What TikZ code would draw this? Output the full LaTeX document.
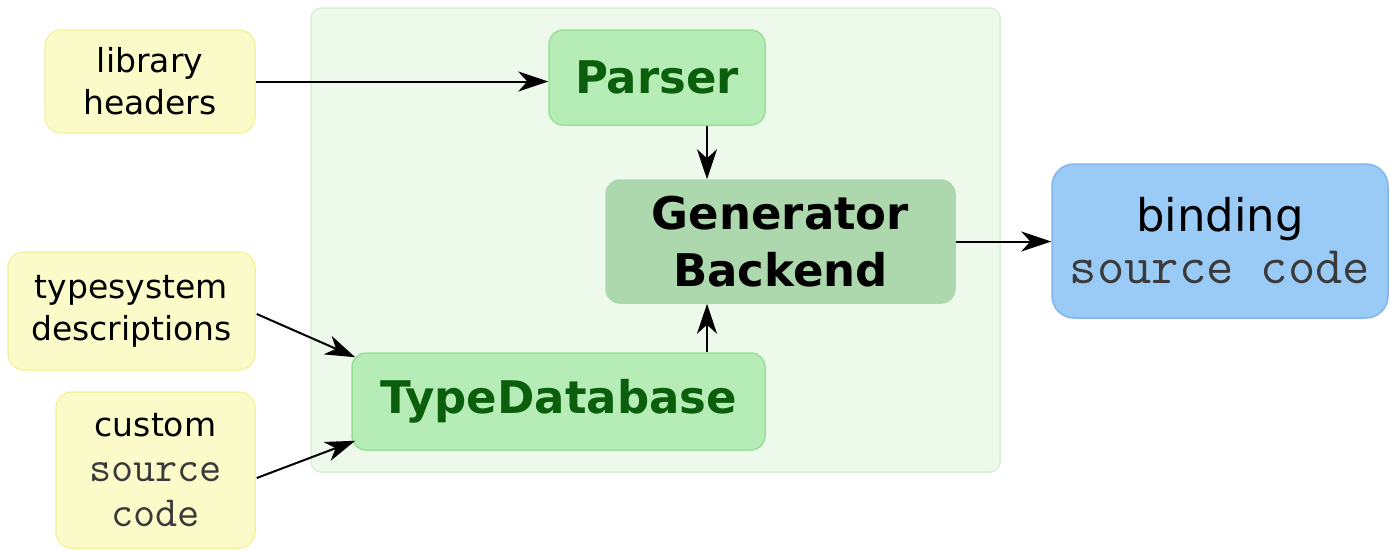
\documentclass[tikz,border=0pt]{standalone}
\usepackage{fontspec}
\setmainfont{DejaVu Sans}
\usetikzlibrary{arrows.meta,calc}
\definecolor{contfill}{HTML}{ECF9EB}
\definecolor{contdraw}{HTML}{D6F1D4}
\definecolor{yelfill}{HTML}{FBFBC9}
\definecolor{yeldraw}{HTML}{F3F3A6}
\definecolor{grnfill}{HTML}{B6ECB5}
\definecolor{grndraw}{HTML}{9ADF98}
\definecolor{grntext}{HTML}{0B5E0B}
\definecolor{genfill}{HTML}{ADD7AC}
\definecolor{blufill}{HTML}{9ACBF6}
\definecolor{bludraw}{HTML}{80B6EC}
\definecolor{monotext}{HTML}{3A3A3A}
\tikzset{
  inbox/.style={draw=yeldraw, fill=yelfill, line width=1.5pt, rounded corners=16pt,
    inner sep=0pt, align=center, font=\fontsize{33}{42}\selectfont},
  stage/.style={draw=grndraw, fill=grnfill, line width=1.5pt, rounded corners=14pt,
    inner sep=0pt, align=center, text=grntext, font=\fontsize{45}{57}\selectfont\bfseries},
  flow/.style={line width=2pt, -{Stealth[length=30pt,width=20pt,inset=9pt]}}
}
\newcommand{\mytt}[1]{{\ttfamily\color{monotext}#1}}
\begin{document}
\begin{tikzpicture}[x=1pt,y=-1pt]
\useasboundingbox (0,0) rectangle (1390,550);
\node[draw=contdraw, fill=contfill, line width=1.5pt, rounded corners=10pt,
  minimum width=689pt, minimum height=464pt, inner sep=0pt] (cont) at (655.5,240) {};
\node[inbox, minimum width=210pt, minimum height=103pt] (lib) at (150,81.5) {library\\headers};
\node[inbox, minimum width=247pt, minimum height=118pt] (tsys) at (131.5,311) {typesystem\\descriptions};
\node[inbox, minimum width=199pt, minimum height=156pt, font=\fontsize{33}{45}\selectfont] (cust) at (155.5,470)
  {custom\\{\fontsize{43}{45}\selectfont\mytt{source}}\\{\fontsize{43}{45}\selectfont\mytt{code}}};
\node[stage, minimum width=216pt, minimum height=95pt] (parser) at (657,77.5) {Parser};
\node[stage, draw=genfill, fill=genfill, text=black, minimum width=349pt, minimum height=123pt] (gen) at (780.5,241.5) {Generator\\Backend};
\node[stage, minimum width=413pt, minimum height=97pt] (tdb) at (558.5,401.5) {TypeDatabase};
\node[draw=bludraw, fill=blufill, line width=1.5pt, rounded corners=22pt, inner sep=0pt, align=center,
  minimum width=336pt, minimum height=154pt, font=\fontsize{45}{52}\selectfont] (bind) at (1220,241)
  {binding\\{\fontsize{53}{52}\selectfont\mytt{source code}}};
\draw[flow] (lib.east) -- (parser.west |- lib.east);
\draw[flow] (parser.south -| 707,0) -- (gen.north -| 707,0);
\draw[flow] (tdb.north -| 707,0) -- (gen.south -| 707,0);
\draw[flow] (gen.east) -- (bind.west |- gen.east);
\draw[flow] ($(tsys.east)+(1,3)$) -- ($(tdb.north west)+(4,5)$);
\draw[flow] ($(cust.east)+(1,8)$) -- ($(tdb.south west)+(4,-10)$);
\end{tikzpicture}
\end{document}
